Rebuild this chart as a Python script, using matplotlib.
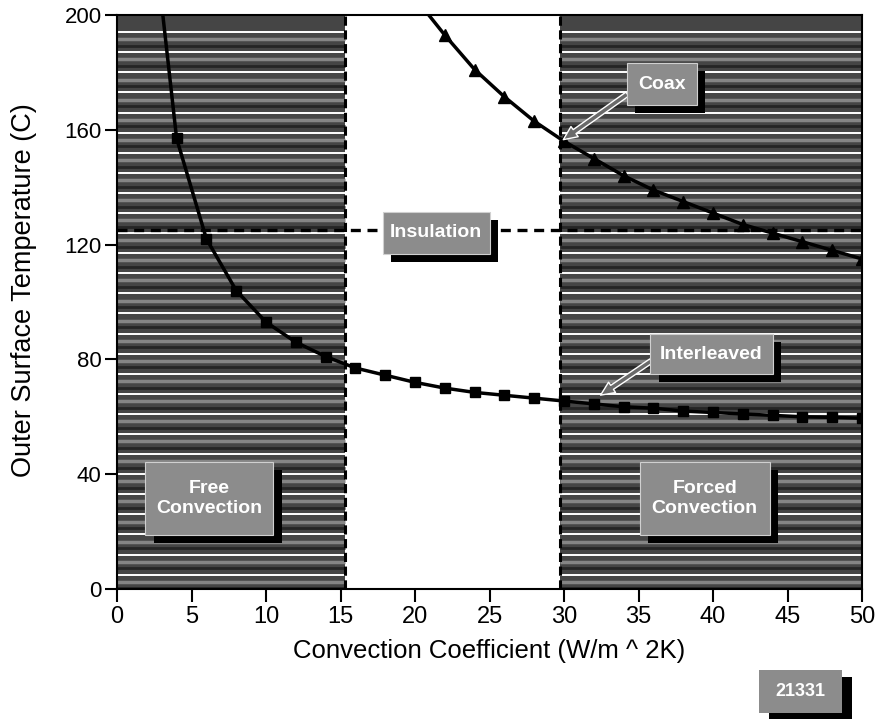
import matplotlib
matplotlib.use('Agg')
import matplotlib.pyplot as plt
from matplotlib.patches import Rectangle
import numpy as np

# curve data
h_interleaved = [2, 4, 6, 8, 10, 12, 14, 16, 18, 20, 22, 24, 26, 28, 30,
                 32, 34, 36, 38, 40, 42, 44, 46, 48, 50]
t_interleaved = [250, 157, 122, 104, 93, 86, 81, 77, 74.5, 72, 70, 68.5, 67.5,
                 66.5, 65.5, 64.5, 63.5, 63, 62, 61.5, 61, 60.5, 60, 59.8, 59.5]

h_coax = [20, 22, 24, 26, 28, 30, 32, 34, 36, 38, 40, 42, 44, 46, 48, 50]
t_coax = [206, 193, 181, 171.5, 163, 156, 150, 144, 139, 135, 131, 127, 124,
          121, 118, 115]

insulation_temp = 125
free_region = (0, 15.3)
forced_region = (29.7, 50)

x_ticks = [0, 5, 10, 15, 20, 25, 30, 35, 40, 45, 50]
y_ticks = [0, 40, 80, 120, 160, 200]

plt.rcParams['font.family'] = ['Liberation Sans', 'DejaVu Sans']

fig = plt.figure(figsize=(8.75, 7.19), dpi=100)
ax = fig.add_axes([117/875, 1 - 589/719, 745/875, 574/719])
ax.set_xlim(0, 50)
ax.set_ylim(0, 200)

# shaded convection regions with horizontal streaks
stripes = np.arange(194, 0, -7)
for x0, x1 in (free_region, forced_region):
  ax.axvspan(x0, x1, color='#454545', zorder=1, lw=0)
  ax.hlines(stripes, x0, x1, colors='white', lw=1.4, zorder=1.5)
  ax.hlines(stripes - 2.5, x0, x1, colors='#858585', lw=2.5, zorder=1.4)
  ax.hlines(stripes - 4.8, x0, x1, colors='#252525', lw=2.0, zorder=1.4)
for xb in (free_region[1], forced_region[0]):
  ax.axvline(xb, color='black', lw=2.2, ls=(0, (3, 1.5)), zorder=2)

ax.axhline(insulation_temp, color='black', lw=2.4, ls=(0, (3, 2)), zorder=2)

ax.plot(h_interleaved, t_interleaved, color='black', lw=2.5, marker='s',
        ms=7, zorder=3)
ax.plot(h_coax, t_coax, color='black', lw=2.5, marker='^', ms=9, zorder=3)

def label_box(x0, y0, x1, y1, text, size=14):
  dx, dy = 0.55, 2.8
  ax.add_patch(Rectangle((x0 + dx, y0 - dy), x1 - x0, y1 - y0,
                         fc='black', ec='none', zorder=4, clip_on=False))
  ax.add_patch(Rectangle((x0, y0), x1 - x0, y1 - y0, fc='#8c8c8c',
                         ec='#d0d0d0', lw=0.8, zorder=4.1, clip_on=False))
  ax.text((x0 + x1) / 2, (y0 + y1) / 2, text, color='white',
          fontweight='bold', fontsize=size, ha='center', va='center',
          linespacing=1.25, zorder=5)

label_box(1.9, 18.9, 10.5, 44.1, 'Free\nConvection')
label_box(35.1, 18.9, 43.8, 44.1, 'Forced\nConvection')
label_box(35.8, 74.8, 44.0, 88.8, 'Interleaved')
label_box(34.2, 168.5, 38.9, 183.2, 'Coax')
label_box(17.85, 116.8, 25.0, 131.5, 'Insulation')

arrow = dict(arrowstyle='simple,head_width=0.9,head_length=1.0,tail_width=0.35',
             fc='#6a6a6a', ec='white', lw=1.0)
ax.annotate('', xy=(29.8, 156), xytext=(34.4, 173), arrowprops=arrow,
            zorder=4)
ax.annotate('', xy=(32.3, 67), xytext=(36.0, 80), arrowprops=arrow,
            zorder=4)

ax.set_xticks(x_ticks)
ax.set_yticks(y_ticks)
ax.set_xticklabels([str(v) for v in x_ticks], fontsize=17)
ax.set_yticklabels([str(v) for v in y_ticks], fontsize=16)
ax.tick_params(direction='out', length=9, width=1.5, colors='black')
ax.tick_params(axis='y', pad=2)
for s in ax.spines.values():
  s.set_linewidth(1.5)
  s.set_zorder(6)

ax.set_xlabel('Convection Coefficient (W/m ^ 2K)', fontsize=18.5, labelpad=8)
ax.set_ylabel('Outer Surface Temperature (C)', fontsize=19.5)
ax.yaxis.set_label_coords(-0.107, 0.52)

# figure number tag at bottom right
fig.patches.append(Rectangle((769/875, 1 - 720/719), 83/875, 43/719,
                             transform=fig.transFigure, fc='black',
                             ec='none'))
fig.patches.append(Rectangle((759/875, 1 - 713/719), 83/875, 43/719,
                             transform=fig.transFigure, fc='#8c8c8c',
                             ec='none'))
fig.text(800/875, 1 - 692/719, '21331', color='white', fontweight='bold',
         fontsize=13, ha='center', va='center')

fig.savefig('out.png', dpi=100)
